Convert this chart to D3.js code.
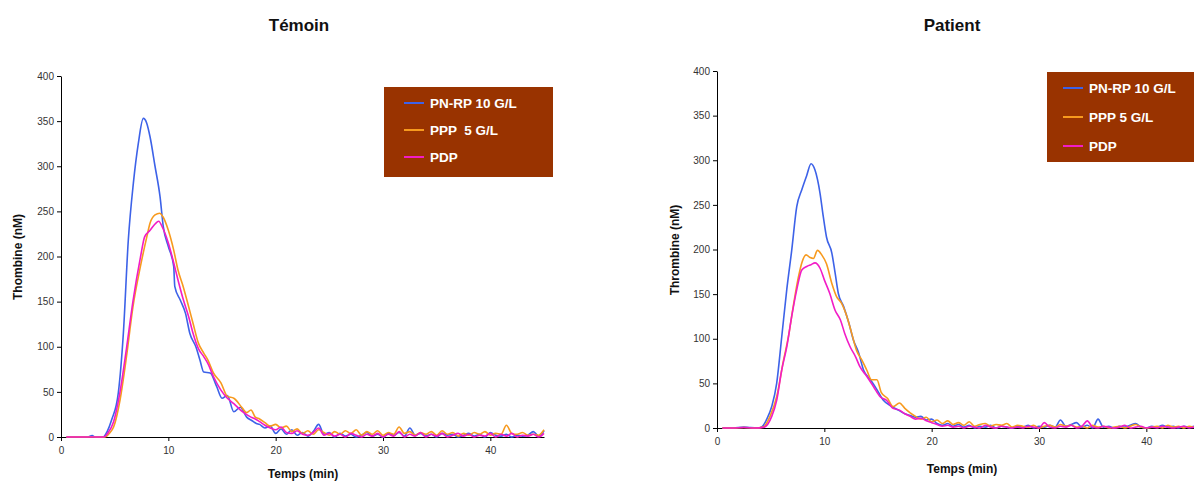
<!DOCTYPE html>
<html><head><meta charset="utf-8">
<script src="https://cdn.jsdelivr.net/npm/d3@7"></script>
<style>
body{margin:0;background:#fff;}
svg{display:block;font-family:"Liberation Sans",Arial,sans-serif;}
</style></head>
<body>
<svg id="c" width="1194" height="481"></svg>
<script>
// ---------- DATA ----------
const seriesNames = ["PN-RP 10 G/L", "PPP  5 G/L", "PDP"];
const seriesNamesPatient = ["PN-RP 10 G/L", "PPP 5 G/L", "PDP"];
const seriesColors = ["#3d62e8", "#f79a1e", "#f21cc6"];
const xTicks = [0, 10, 20, 30, 40];
const yTicks = [0, 50, 100, 150, 200, 250, 300, 350, 400];

// Témoin: [time (min), thrombin (nM)]
const temoinBlue = [[0.5,0],[1.5,0],[2.5,0],[2.9,1.5],[3.2,0],[3.94,0],[4.3,6],[4.72,19],[5.34,49],[5.81,115],[6.27,218],[6.74,281],[7.2,325],[7.67,353],[7.98,348],[8.29,333],[8.76,300],[9.23,266],[9.53,233],[10.0,211],[10.5,189],[10.6,167],[11.1,152],[11.6,137],[12.0,115],[12.6,99],[12.95,85],[13.3,72],[13.9,71],[14.5,56],[15.0,43],[15.5,46],[16.1,28],[16.7,33],[17.3,22],[17.8,18],[18.2,15],
 [18.5,14],[19,10],[19.5,12],[20,4],[20.5,9],[21,3],[21.5,8],[22,2],[22.5,5],[23,1],[23.5,6],[24,14],[24.5,3],[25,5],[25.5,0],[26,4],[26.5,1],[27,3],[27.5,0],[28,2],[28.5,5],[29,1],[29.5,3],[30,0],[30.5,4],[31,2],[31.5,5],[32,1],[32.5,10],[33,2],[33.5,4],[34,1],[34.5,3],[35,0],[35.5,4],[36,2],[36.5,3],[37,0],[37.5,2],[38,4],[38.5,1],[39,3],[39.5,0],[40,5],[40.5,2],[41,1],[41.5,3],[42,0],[42.5,2],[43,1],[43.5,2],[44,6],[44.5,1],[45,7]];
const temoinOrange = [[0.5,0],[1.5,0],[2.5,0],[3.5,0],[4.1,0],[4.5,4],[4.9,11],[5.5,41],[6.1,89],[6.7,144],[7.4,189],[8.0,222],[8.3,237],[8.76,246],[9.2,248],[9.5,244],[10.0,229],[10.5,207],[10.9,185],[11.4,166],[11.9,144],[12.3,126],[12.8,104],[13.3,93],[13.7,85],[14.2,71],[14.9,60],[15.5,45],[16.1,43],[16.9,32],[17.3,27],[17.7,30],[18.1,22],
 [18.5,20],[19,16],[19.5,12],[20,14],[20.5,10],[21,12],[21.5,6],[22,9],[22.5,4],[23,7],[23.5,3],[24,8],[24.5,5],[25,2],[25.5,6],[26,3],[26.5,7],[27,4],[27.5,8],[28,2],[28.5,6],[29,3],[29.5,7],[30,2],[30.5,5],[31,3],[31.5,11],[32,4],[32.5,6],[33,2],[33.5,5],[34,3],[34.5,6],[35,2],[35.5,7],[36,3],[36.5,5],[37,1],[37.5,4],[38,2],[38.5,5],[39,3],[39.5,6],[40,2],[40.5,4],[41,3],[41.5,13],[42,4],[42.5,3],[43,5],[43.5,2],[44,3],[44.5,2],[45,8]];
const temoinPink = [[0.5,0],[1.5,0],[2.5,0],[3.5,0],[3.95,0],[4.4,5],[4.9,17],[5.5,50],[6.1,98],[6.7,150],[7.4,199],[7.8,222],[8.3,229],[8.76,236],[9.1,239],[9.5,231],[10.0,215],[10.5,193],[10.9,174],[11.4,152],[11.9,133],[12.3,115],[12.8,98],[13.3,89],[13.7,81],[14.2,67],[14.9,52],[15.5,43],[16.1,37],[16.9,28],[17.7,22],[18.1,20],
 [18.5,17],[19,13],[19.5,10],[20,8],[20.5,11],[21,5],[21.5,4],[22,7],[22.5,3],[23,2],[23.5,5],[24,10],[24.5,2],[25,4],[25.5,1],[26,3],[26.5,0],[27,4],[27.5,2],[28,0],[28.5,3],[29,1],[29.5,4],[30,0],[30.5,3],[31,1],[31.5,6],[32,0],[32.5,3],[33,1],[33.5,5],[34,0],[34.5,3],[35,1],[35.5,4],[36,0],[36.5,2],[37,4],[37.5,1],[38,3],[38.5,0],[39,2],[39.5,1],[40,4],[40.5,0],[41,3],[41.5,1],[42,4],[42.5,0],[43,2],[43.5,1],[44,3],[44.5,0],[45,4]];

// Patient
const patientBlue = [[0.5,0],[1.5,0],[2.5,1],[3,0.5],[3.8,0],[4.2,1.5],[4.6,9],[5.1,24],[5.56,50],[6.03,102],[6.5,155],[6.96,199],[7.43,248],[7.9,267],[8.36,283],[8.76,296],[9.13,289],[9.6,263],[9.9,237],[10.2,214],[10.7,196],[11.0,174],[11.3,151],[11.8,136],[12.3,117],[12.7,99],[13.2,84],[13.65,65],[14.3,54],[14.9,43],[15.5,31],[16.3,24],[16.9,20],
 [17.5,16],[18,14],[18.5,12],[19,13],[19.5,9],[20,10],[20.5,5],[21,3],[21.5,5],[22,2],[22.5,4],[23,1],[23.5,3],[24,0],[24.5,2],[25,1],[25.5,3],[26,0],[26.5,2],[27,1],[27.5,0],[28,2],[28.5,1],[29,3],[29.5,0],[30,2],[30.5,1],[31,3],[31.5,1],[32,9],[32.5,2],[33,4],[33.5,6],[34,1],[34.5,3],[35,0],[35.5,10],[36,1],[36.5,2],[37,0],[37.5,2],[38,1],[38.5,3],[39,5],[39.5,1],[40,0],[40.5,2],[41,1],[41.5,3],[42,1],[42.5,2],[43,0],[43.5,2],[44,1],[44.5,2],[45,1]];
const patientOrange = [[0.5,0],[1.5,0],[2.5,0.5],[3.5,0],[4.3,1],[4.94,13],[5.56,35],[6.2,76],[6.65,102],[7.1,136],[7.6,170],[7.9,185],[8.3,194],[8.67,191],[8.98,190],[9.36,199],[9.76,194],[10.2,184],[10.7,162],[11.15,147],[11.6,140],[12.1,125],[12.55,106],[13.0,87],[13.5,76],[13.95,65],[14.4,54],[14.9,54],[15.3,40],[15.9,33],[16.4,24],[17.0,28],
 [17.5,22],[18,17],[18.5,13],[19,10],[19.5,12],[20,7],[20.5,9],[21,5],[21.5,8],[22,4],[22.5,6],[23,3],[23.5,7],[24,2],[24.5,4],[25,5],[25.5,2],[26,4],[26.5,3],[27,5],[27.5,1],[28,3],[28.5,2],[29,1],[29.5,3],[30,0],[30.5,2],[31,3],[31.5,1],[32,4],[32.5,2],[33,3],[33.5,1],[34,2],[34.5,0],[35,3],[35.5,1],[36,2],[36.5,0],[37,1],[37.5,2],[38,0],[38.5,2],[39,4],[39.5,1],[40,0],[40.5,1],[41,2],[41.5,0],[42,3],[42.5,1],[43,2],[43.5,0],[44,2],[44.5,1],[45,3]];
const patientPink = [[0.5,0],[1.5,0],[2.5,0.5],[3.5,0],[4.4,1],[5.1,13],[5.56,31],[6.03,65],[6.5,91],[6.96,125],[7.43,155],[7.9,177],[8.36,181],[8.76,183],[9.13,185],[9.6,179],[10.0,166],[10.5,151],[11.0,132],[11.5,121],[11.9,106],[12.4,91],[12.9,80],[13.3,69],[13.95,58],[14.6,46],[15.2,35],[15.8,31],[16.4,22],[17.0,20],
 [17.5,16],[18,13],[18.5,10],[19,11],[19.5,8],[20,6],[20.5,4],[21,2],[21.5,3],[22,1],[22.5,2],[23,0],[23.5,2],[24,1],[24.5,0],[25,3],[25.5,1],[26,0],[26.5,2],[27,1],[27.5,0],[28,1],[28.5,0],[29,2],[29.5,1],[30,0],[30.5,6],[31,1],[31.5,0],[32,2],[32.5,1],[33,3],[33.5,0],[34,2],[34.5,8],[35,1],[35.5,0],[36,2],[36.5,1],[37,0],[37.5,1],[38,3],[38.5,0],[39,1],[39.5,2],[40,0],[40.5,1],[41,0],[41.5,2],[42,1],[42.5,0],[43,1],[43.5,2],[44,0],[44.5,1],[45,0]];

// ---------- DRAW ----------
const svg = d3.select("#c");

function panel(cfg){
  const g = svg.append("g");
  const x = d3.scaleLinear().domain([0,45]).range([cfg.x0, cfg.x1]);
  const y = d3.scaleLinear().domain([0,400]).range([cfg.y0, cfg.y1]);

  g.append("text").attr("x", cfg.titleX).attr("y", cfg.titleY)
    .attr("text-anchor","middle").attr("font-size",17).attr("font-weight","bold")
    .attr("fill","#111").text(cfg.title);

  const xa = g.append("g").attr("transform",`translate(0,${cfg.y0})`)
    .call(d3.axisBottom(x).tickValues(xTicks).tickSize(4).tickSizeOuter(0).tickPadding(6));
  const ya = g.append("g").attr("transform",`translate(${cfg.x0},0)`)
    .call(d3.axisLeft(y).tickValues(yTicks).tickSize(4).tickSizeOuter(0).tickPadding(3));
  [xa,ya].forEach(a=>{
    a.selectAll("path").attr("stroke","#000").attr("stroke-width",1);
    a.selectAll("line").attr("stroke","#000");
    a.selectAll("text").attr("font-size",10).attr("fill","#333")
      .attr("font-family","'Liberation Sans',Arial,sans-serif");
  });

  g.append("text").attr("x", cfg.xlabX).attr("y", cfg.xlabY)
    .attr("text-anchor","middle").attr("font-size",12).attr("font-weight","bold")
    .attr("fill","#111").text("Temps (min)");
  g.append("text").attr("transform",`translate(${cfg.ylabX},${cfg.ylabY}) rotate(-90)`)
    .attr("text-anchor","middle").attr("font-size",12).attr("font-weight","bold")
    .attr("fill","#111").text(cfg.ylab);

  const line = d3.line().x(d=>x(d[0])).y(d=>y(d[1])).curve(d3.curveMonotoneX);
  cfg.data.forEach((s,i)=>{
    g.append("path").datum(s).attr("d",line).attr("fill","none")
      .attr("stroke",seriesColors[i]).attr("stroke-width",1.6)
      .attr("stroke-linejoin","round");
  });

  const L = cfg.legend;
  g.append("rect").attr("x",L.x).attr("y",L.y).attr("width",L.w).attr("height",L.h)
    .attr("fill","#993300");
  cfg.names.forEach((n,i)=>{
    const yy = L.y + L.first + i*L.step;
    g.append("line").attr("x1",L.x+L.lx).attr("x2",L.x+L.lx+20).attr("y1",yy).attr("y2",yy)
      .attr("stroke",seriesColors[i]).attr("stroke-width",2);
    g.append("text").attr("x",L.x+L.lx+26).attr("y",yy+5).attr("font-size",13.5)
      .attr("font-weight","bold").attr("fill","#fff").attr("xml:space","preserve")
      .style("white-space","pre").text(n);
  });
}

panel({title:"Témoin", titleX:299, titleY:31, x0:61, x1:544, y0:437, y1:76,
  xlabX:303, xlabY:478, ylabX:22, ylabY:257, ylab:"Thombine (nM)",
  data:[temoinBlue, temoinOrange, temoinPink], names: seriesNames,
  legend:{x:384, y:87, w:169, h:90, first:16, step:27, lx:20}});

panel({title:"Patient", titleX:952, titleY:31, x0:717, x1:1200, y0:428, y1:71,
  xlabX:962, xlabY:473, ylabX:679, ylabY:250, ylab:"Thrombine (nM)",
  data:[patientBlue, patientOrange, patientPink], names: seriesNamesPatient,
  legend:{x:1047, y:72, w:160, h:90, first:16, step:29, lx:16}});
</script>
</body></html>
